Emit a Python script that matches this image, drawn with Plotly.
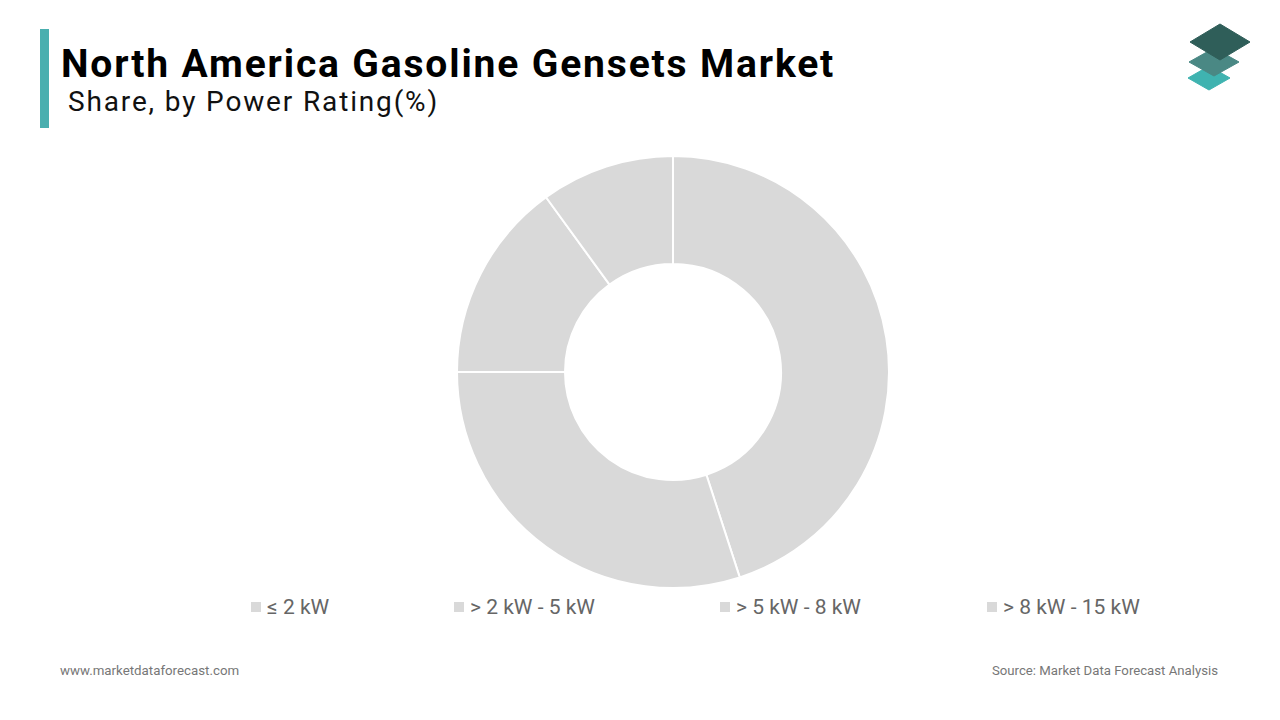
import plotly.graph_objects as go

categories = ["≤ 2 kW", "> 2 kW - 5 kW", "> 5 kW - 8 kW", "> 8 kW - 15 kW"]
shares = [45, 30, 15, 10]
slice_color = "#d9d9d9"

title_text = "North America Gasoline Gensets Market"
subtitle_text = "Share, by Power Rating(%)"
footer_left = "www.marketdataforecast.com"
footer_right = "Source: Market Data Forecast Analysis"

W, H = 1280, 720

fig = go.Figure()
fig.add_trace(go.Pie(
    labels=categories,
    values=shares,
    hole=0.5,
    sort=False,
    direction="clockwise",
    rotation=0,
    marker=dict(colors=[slice_color] * len(categories), line=dict(color="white", width=2)),
    textinfo="none",
    hoverinfo="label+percent",
    showlegend=False,
    domain=dict(x=[457 / W, 889 / W], y=[(H - 588) / H, (H - 156) / H]),
))

shapes = []
annotations = []

# accent bar
shapes.append(dict(type="rect", xref="paper", yref="paper",
                   x0=40 / W, x1=49 / W, y0=1 - 128 / H, y1=1 - 29 / H,
                   fillcolor="#4aafaf", line=dict(width=0)))

annotations.append(dict(text=f"<span style='letter-spacing:1.85px'><b>{title_text}</b></span>",
                        xref="paper", yref="paper",
                        x=59 / W, y=1 - 64 / H, xanchor="left", yanchor="middle",
                        showarrow=False, font=dict(family="Roboto", size=39, color="#000000")))
annotations.append(dict(text=f"<span style='letter-spacing:1.85px'>{subtitle_text}</span>",
                        xref="paper", yref="paper",
                        x=66 / W, y=1 - 102 / H, xanchor="left", yanchor="middle",
                        showarrow=False, font=dict(family="Roboto", size=28, color="#111111")))

# legend (manual)
legend_x = [251, 454, 720, 987]
for cx, lab in zip(legend_x, categories):
    shapes.append(dict(type="rect", xref="paper", yref="paper",
                       x0=cx / W, x1=(cx + 10) / W, y0=1 - 612 / H, y1=1 - 602 / H,
                       fillcolor=slice_color, line=dict(width=0)))
    annotations.append(dict(text=lab, xref="paper", yref="paper",
                            x=(cx + 14) / W, y=1 - 607 / H, xanchor="left", yanchor="middle",
                            showarrow=False, font=dict(family="Roboto", size=21, color="#666666")))

# footer
annotations.append(dict(text=footer_left, xref="paper", yref="paper",
                        x=58 / W, y=1 - 670 / H, xanchor="left", yanchor="middle",
                        showarrow=False, font=dict(family="Roboto", size=13.3, color="#777777")))
annotations.append(dict(text=footer_right, xref="paper", yref="paper",
                        x=1220 / W, y=1 - 670 / H, xanchor="right", yanchor="middle",
                        showarrow=False, font=dict(family="Roboto", size=13.2, color="#777777")))

# logo: three stacked diamonds
def diamond(cx, cy, hw, hh, color):
    pts = [(cx, cy - hh), (cx + hw, cy), (cx, cy + hh), (cx - hw, cy)]
    path = "M " + " L ".join(f"{x/W},{1 - y/H}" for x, y in pts) + " Z"
    return dict(type="path", xref="paper", yref="paper", path=path,
                fillcolor=color, line=dict(color=color, width=1))

shapes.append(diamond(1209, 78, 21, 12, "#3fb3b0"))
shapes.append(diamond(1214, 62, 25, 14, "#4a8884"))
shapes.append(diamond(1220, 42, 30, 18, "#2f5e59"))

fig.update_layout(
    width=W, height=H,
    margin=dict(l=0, r=0, t=0, b=0),
    paper_bgcolor="white", plot_bgcolor="white",
    shapes=shapes, annotations=annotations,
    showlegend=False,
)

fig.write_html("out.html")
